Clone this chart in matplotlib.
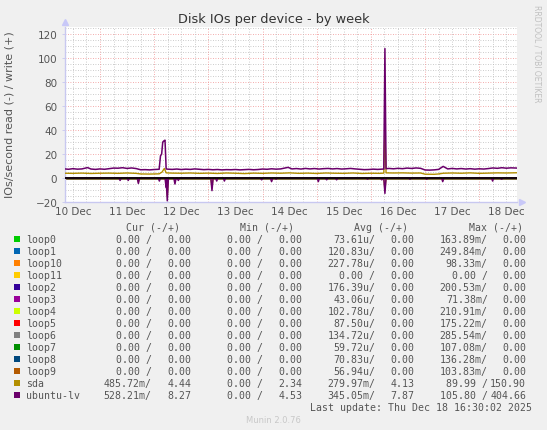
import numpy as np
import matplotlib
matplotlib.use('Agg')
import matplotlib.pyplot as plt

plt.rcParams['font.family'] = 'DejaVu Sans'

# hours since 10 Dec 00:00
x_start = 8.5
x_end = 208.7
day_labels = ['10 Dec', '11 Dec', '12 Dec', '13 Dec', '14 Dec', '15 Dec', '16 Dec', '17 Dec', '18 Dec']

# ubuntu-lv write (+)
uw_t = [8.5, 10, 12, 14, 16, 18.5, 20, 22, 24, 26, 28, 30, 32, 34, 36, 38, 40, 42, 44, 46, 48,
        50.2, 50.8, 51.3, 51.8, 52.3, 52.8, 53.3, 54, 56, 58, 60, 62, 64, 66, 68, 70, 72, 74, 76,
        78, 80, 82, 84, 86, 88, 90, 92, 94, 96, 98, 100, 102, 104, 107.3, 109, 111, 113, 115,
        117, 119, 121, 123, 125, 127, 129, 131, 133, 135, 137, 139, 141, 143, 145, 147, 149.7,
        150.2, 150.7, 152, 154, 156, 158, 160, 162, 164, 166, 168, 170, 172, 174, 176, 178, 180,
        182, 184, 186, 188, 190, 192, 194, 196, 198, 200, 202, 204, 206, 208.7]
uw_v = [7.6, 7.3, 7.8, 7.4, 7.6, 8.7, 7.5, 7.2, 7.6, 7.3, 7.8, 8.3, 8.2, 8.6, 8.0, 8.4, 7.9, 6.9, 7.0, 6.8, 7.1,
        7.3, 18.5, 20.0, 30.0, 31.0, 31.6, 7.6, 7.4, 7.2, 7.5, 7.1, 7.4, 7.2, 7.6, 7.3, 7.0, 7.2, 6.9, 7.1,
        6.8, 7.0, 6.9, 7.1, 6.8, 7.0, 7.2, 6.9, 7.1, 7.5, 7.3, 7.7, 7.4, 7.6, 8.9, 7.6, 7.9, 7.5, 8.0,
        7.6, 7.9, 7.5, 7.8, 8.0, 7.6, 7.9, 7.5, 7.7, 8.0, 7.6, 7.3, 7.0, 7.1, 7.4, 7.2, 7.5,
        108.0, 7.8, 8.0, 7.7, 8.1, 7.8, 8.3, 8.0, 8.4, 8.1, 6.7, 6.6, 6.8, 7.2, 9.7, 7.6, 8.0,
        7.6, 7.9, 7.5, 7.8, 7.4, 7.7, 7.5, 7.9, 8.4, 8.1, 8.6, 8.2, 8.5, 8.3]

# ubuntu-lv read (-) events: hour, value
ur_t = [32.9, 36.5, 41.0, 50.3, 53.3, 53.8, 57.2, 58.7, 73.6, 75.7, 79.1, 95.6, 100.0, 102.0,
        120.7, 124.4, 128.8, 142.5, 148.8, 150.2, 161.3, 168.7, 175.8, 197.9, 201.9]
ur_v = [-2.0, -2.0, -4.5, -2.5, -8.0, -19.0, -5.0, -2.0, -10.5, -2.5, -2.5, -1.5, -3.0, -1.0,
        -3.0, -1.5, -1.5, -1.0, -1.5, -12.8, -1.0, -1.0, -3.0, -2.5, -1.0]

# sda write (+)
sw_t = [8.5, 12, 16, 20, 24, 28, 32, 36, 40, 42, 46, 50.2, 51.5, 52.5, 53.3, 56, 60, 64, 68, 72,
        76, 80, 84, 88, 92, 96, 100, 104, 108, 112, 116, 120, 124, 128, 132, 136, 140, 144, 148,
        149.7, 150.2, 150.7, 154, 158, 162, 166, 168, 172, 174, 176, 180, 184, 188, 192, 196,
        200, 204, 208.7]
sw_v = [4.0, 3.9, 4.1, 3.8, 4.0, 4.1, 3.9, 4.2, 3.9, 3.4, 3.3, 3.5, 5.0, 8.0, 4.3, 4.1, 4.0, 4.2, 3.9, 4.1,
        3.8, 4.2, 4.0, 3.7, 4.1, 3.9, 4.2, 4.0, 4.3, 3.9, 4.1, 3.8, 4.2, 4.0, 3.9, 4.2, 3.8, 4.0, 3.9,
        4.1, 40.0, 4.3, 4.2, 4.3, 4.1, 4.2, 3.2, 3.1, 3.4, 4.0, 4.2, 4.0, 4.3, 3.9, 4.1,
        4.3, 4.2, 4.4]

# sda read (-) events
sr_t = [41.0, 53.8, 73.6, 100.0, 150.2, 175.8]
sr_v = [-3.5, -15.0, -8.0, -2.0, -10.0, -2.0]

names = ['loop0', 'loop1', 'loop10', 'loop11', 'loop2', 'loop3', 'loop4', 'loop5',
         'loop6', 'loop7', 'loop8', 'loop9', 'sda', 'ubuntu-lv']
colors = ['#00CC00', '#0066B3', '#FF8000', '#FFCC00', '#330099', '#990099', '#CCFF00', '#FF0000',
          '#808080', '#008F00', '#00487D', '#B35A00', '#B38F00', '#6B006B']
cur_r = ['0.00 '] * 12 + ['485.72m', '528.21m']
cur_w = ['0.00'] * 12 + ['4.44', '8.27']
min_r = ['0.00 '] * 14
min_w = ['0.00'] * 12 + ['2.34', '4.53']
avg_r = ['73.61u', '120.83u', '227.78u', '0.00 ', '176.39u', '43.06u', '102.78u', '87.50u',
         '134.72u', '59.72u', '70.83u', '56.94u', '279.97m', '345.05m']
avg_w = ['0.00'] * 12 + ['4.13', '7.87']
max_r = ['163.89m', '249.84m', '98.33m', '0.00 ', '200.53m', '71.38m', '210.91m', '175.22m',
         '285.54m', '107.08m', '136.28m', '103.83m', '89.99 ', '105.80 ']
max_w = ['0.00'] * 12 + ['150.90', '404.66']


def spikes(times, vals):
    # each event is a narrow dip from the zero line
    xs, ys = [x_start], [0.0]
    for t, v in zip(times, vals):
        xs += [t - 0.5, t, t + 0.5]
        ys += [0.0, v, 0.0]
    xs.append(x_end)
    ys.append(0.0)
    return xs, ys


W, H = 547, 431
fig = plt.figure(figsize=(W / 100, H / 100), dpi=100, facecolor='#F0F0F0')
L, R, T, B = 65, 517, 28, 203
ax = fig.add_axes([L / W, 1 - B / H, (R - L) / W, (B - T) / H])
ax.set_facecolor('white')
ax.set_xlim(x_start, x_end)
ax.set_ylim(-20, 126)

# grid
for y in range(-15, 126, 5):
    if y % 20 != 0:
        ax.axhline(y, color='#BBBBBB', lw=0.6, ls=(0, (1, 2)), zorder=1)
for y in range(20, 126, 20):
    ax.axhline(y, color='#F09090', lw=0.6, ls=(0, (1, 2)), zorder=1)
for h in range(12, 209, 6):
    if h % 24 != 0:
        ax.axvline(h, color='#BBBBBB', lw=0.6, ls=(0, (1, 2)), zorder=1)
for h in range(24, 209, 24):
    ax.axvline(h, color='#F09090', lw=0.6, ls=(0, (1, 2)), zorder=1)

# series
for c in colors[:12]:
    ax.plot([x_start, x_end], [0, 0], color=c, lw=1, zorder=2)
ax.plot(*spikes(sr_t, sr_v), color=colors[12], lw=1, zorder=3)
ax.plot(sw_t, sw_v, color=colors[12], lw=1, zorder=3)
ax.plot(*spikes(ur_t, ur_v), color=colors[13], lw=1.1, zorder=4)
ax.plot(uw_t, uw_v, color=colors[13], lw=1.1, zorder=4)
ax.axhline(0, color='black', lw=1.2, zorder=5)

for s in ['top', 'right']:
    ax.spines[s].set_visible(False)
for s in ['left', 'bottom']:
    ax.spines[s].set_color('#C8C8F0')
    ax.spines[s].set_linewidth(1)
ax.plot([0], [1.03], marker='^', color='#C8C8F8', ms=5, transform=ax.transAxes, clip_on=False)
ax.plot([1.01], [0], marker='>', color='#C8C8F8', ms=5, transform=ax.transAxes, clip_on=False)

ax.set_yticks(range(-20, 121, 20))
ax.set_xticks([12 + 24 * i for i in range(9)])
ax.set_xticklabels(day_labels)
ax.tick_params(axis='both', labelsize=7.5, colors='#555555', length=2, width=0.6)
ax.tick_params(axis='both', color='#C8C8F0')
ax.tick_params(axis='x', length=0, pad=3)

fig.text(0.5, 1 - 19 / H, 'Disk IOs per device - by week', ha='center', va='center',
         fontsize=9.3, color='#333333')
fig.text(10 / W, 1 - 115 / H, 'IOs/second read (-) / write (+)', rotation=90, ha='center',
         va='center', fontsize=8, color='#555555')
fig.text(537 / W, 1 - 5 / H, 'RRDTOOL / TOBI OETIKER', rotation=270, ha='center', va='top',
         fontsize=5.5, color='#C0C0C0')

# legend
mono = dict(family='DejaVu Sans Mono', fontsize=7.1, color='#555555', va='center')


def px(x, y):
    return x / W, 1 - y / H


for xe, lab in zip([180, 294, 408.5, 523], ['Cur (-/+)', 'Min (-/+)', 'Avg (-/+)', 'Max (-/+)']):
    fig.text(*px(xe, 228), lab, ha='right', **mono)

cols = [(cur_r, cur_w, 151.6, 191.3), (min_r, min_w, 263, 302.8),
        (avg_r, avg_w, 375.3, 414.6), (max_r, max_w, 487.8, 526.1)]
for i, name in enumerate(names):
    y = 240 + 12 * i
    fig.patches.append(plt.Rectangle(px(14, y + 3), 6 / W, 6 / H, transform=fig.transFigure,
                                     facecolor=colors[i], edgecolor='none'))
    fig.text(*px(26, y), name, ha='left', **mono)
    for rd, wr, xs, xe in cols:
        fig.text(*px(xs, y), rd[i] + '/', ha='right', **mono)
        fig.text(*px(xe, y), wr[i], ha='right', **mono)

fig.text(*px(532, 408), 'Last update: Thu Dec 18 16:30:02 2025', ha='right', **mono)
fig.text(*px(273, 421), 'Munin 2.0.76', ha='center', va='center', fontsize=6,
         color='#C8C8C8')

fig.savefig('out.png', dpi=100, facecolor=fig.get_facecolor())
